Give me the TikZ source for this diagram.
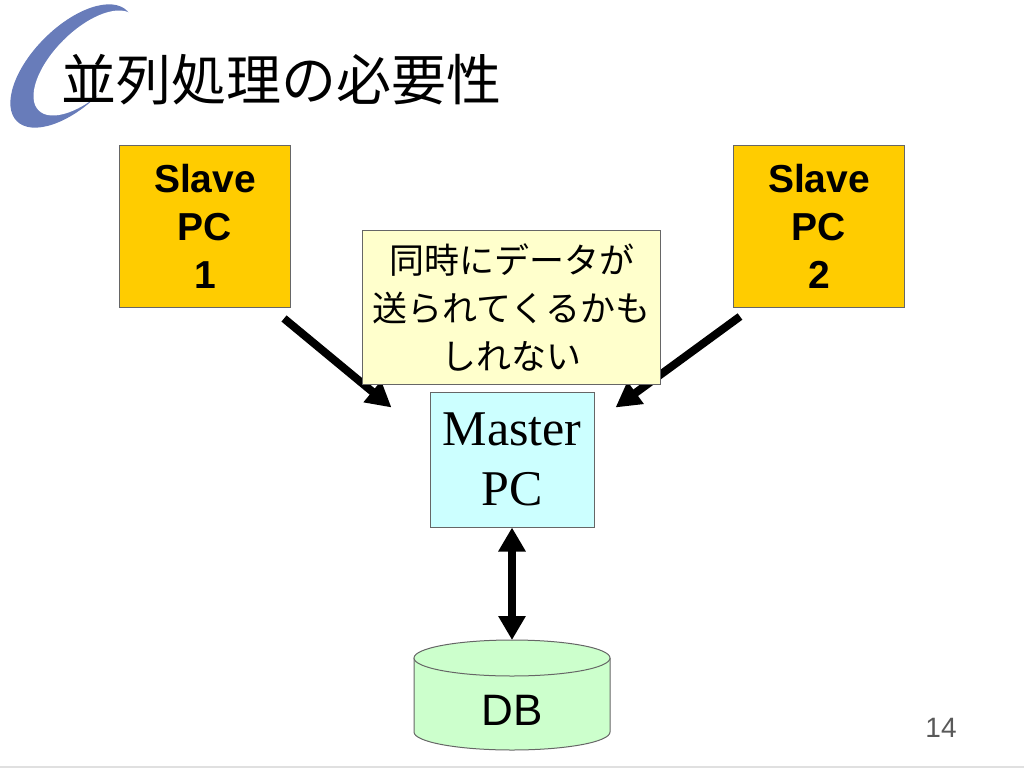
\documentclass[tikz,border=0pt]{standalone}
\usepackage{fontspec}
\setmainfont{Liberation Serif}
\newfontfamily\arial{Liberation Sans}
\newfontfamily\jp{Noto Sans CJK JP}
\usetikzlibrary{arrows.meta,calc}
\definecolor{slavebg}{RGB}{255,204,0}
\definecolor{notebg}{RGB}{255,255,204}
\definecolor{masterbg}{RGB}{204,255,255}
\definecolor{dbbg}{RGB}{204,255,204}
\definecolor{logoblue}{RGB}{104,124,186}
\definecolor{pagegray}{RGB}{89,89,89}
\tikzset{
  box/.style={draw=black!60,line width=1pt,inner sep=0pt,align=center},
  slave/.style={box,fill=slavebg,minimum width=171pt,minimum height=162pt,font=\arial\bfseries\fontsize{39}{48}\selectfont},
  fat/.style={line width=8pt,-{Triangle[length=25pt,width=26pt]}}
}
\begin{document}
\begin{tikzpicture}[x=1pt,y=-1pt]
\useasboundingbox (0,0) rectangle (1024,768);
\fill[logoblue,rotate around={45:(72,66)}] (72,66) ellipse [x radius=78pt,y radius=39pt];
\fill[white,rotate around={45:(86,63)}] (86,63) ellipse [x radius=67pt,y radius=32pt];
\node[font=\jp\fontsize{55}{60}\selectfont] (title) at (281,80) {並列処理の必要性};
\node[slave] (slave1) at (205,226) {Slave\\PC\\1};
\node[slave] (slave2) at (819,226) {Slave\\PC\\2};
\node[box,fill=masterbg,minimum width=164pt,minimum height=135pt,font=\fontsize{50}{60}\selectfont] (master) at (512,459.5) {Master\\PC};
\draw[fat] ($(slave1.south east)+(-7,11)$) -- ($(master.north west)+(-38,16)$);
\draw[fat] ($(slave2.south west)+(7,9)$) -- ($(master.north east)+(21,16)$);
\node[box,fill=notebg,minimum width=298pt,minimum height=154pt,font=\jp\fontsize{35}{48}\selectfont] (note) at (511.5,307) {同時にデータが\\送られてくるかも\\しれない};
\path[fill=dbbg,draw=black!60,line width=1pt] (414,658) -- (414,732) arc[start angle=180,end angle=360,x radius=98pt,y radius=18pt] -- (610,658);
\filldraw[fill=dbbg,draw=black!60,line width=1pt] (512,658) ellipse [x radius=98pt,y radius=18pt];
\coordinate (dbtop) at (512,640);
\node[font=\arial\fontsize{44}{48}\selectfont] (db) at (512,710) {DB};
\draw[line width=8pt,{Triangle[length=24pt,width=26pt]}-{Triangle[length=24pt,width=26pt]}] (master.south) -- (dbtop);
\node[font=\arial\fontsize{28}{30}\selectfont,text=pagegray] (page) at (941,728) {14};
\draw[black!12,line width=2pt] (0,767) -- (1024,767);
\end{tikzpicture}
\end{document}
